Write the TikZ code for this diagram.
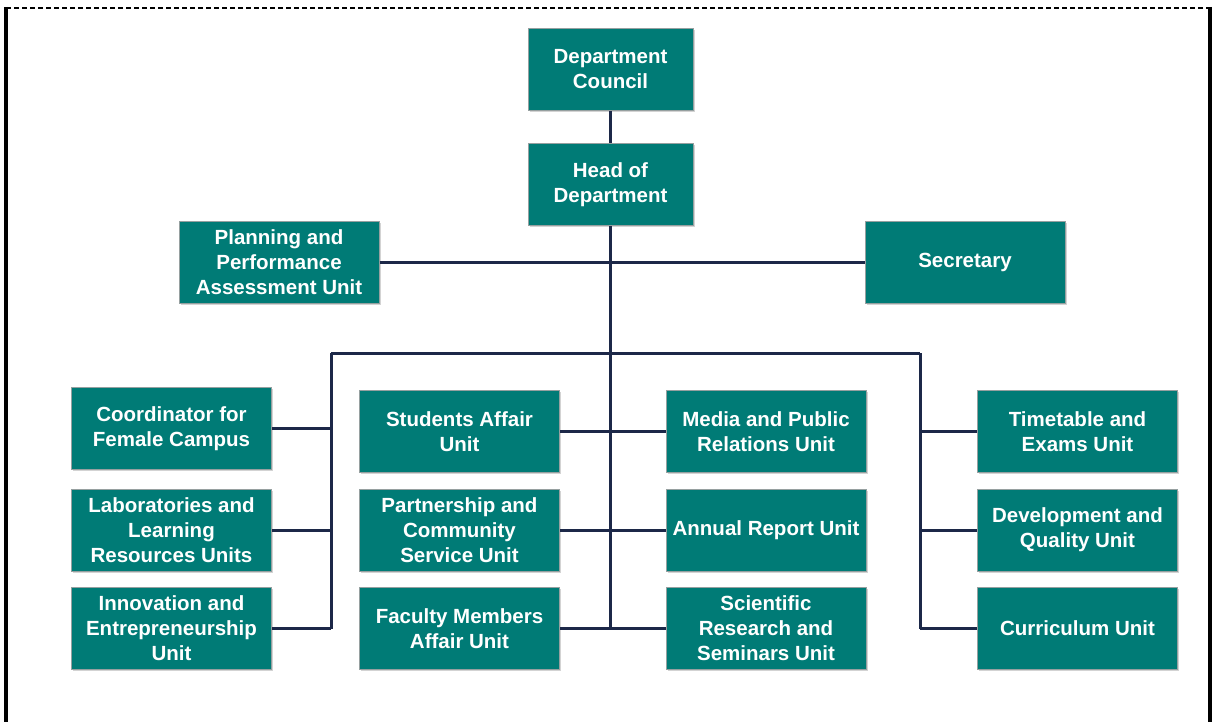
\documentclass[tikz,border=0pt]{standalone}
\usepackage{fontspec}
\setmainfont{Liberation Sans}
\usetikzlibrary{shadows}
\definecolor{boxteal}{RGB}{0,123,118}
\definecolor{boxedge}{RGB}{150,160,160}
\definecolor{linknavy}{RGB}{28,40,72}
\tikzset{
  unitbox/.style={rectangle, fill=boxteal, draw=boxedge, line width=1pt,
    minimum width=200pt, minimum height=82pt, inner sep=2pt,
    text=white, align=center,
    font=\fontsize{20.5}{25}\selectfont\bfseries,
    drop shadow={opacity=0.35, shadow xshift=1.5pt, shadow yshift=-1.5pt}},
  link/.style={draw=linknavy, line width=3pt},
  framethick/.style={draw=black, line width=3.5pt},
  framedash/.style={draw=black, line width=1.8pt, dash pattern=on 5pt off 3pt}
}
\begin{document}
\begin{tikzpicture}[x=1pt,y=-1pt]
\useasboundingbox (0,0) rectangle (1212,722);
% frame
\draw[framedash] (6,8) -- (1210,8);
\draw[framethick] (6,7) -- (6,722);
\draw[framethick] (1210,7) -- (1210,722);

% junction coordinates
\coordinate (busL) at (331,353);
\coordinate (busC) at (610.5,353);
\coordinate (busR) at (920,353);
\coordinate (botL) at (331,629);
\coordinate (botC) at (610.5,629);
\coordinate (botR) at (920,629);

% nodes
\node[unitbox, minimum width=165pt] (dc) at (610.5,69.5) {Department\\Council};
\node[unitbox, minimum width=165pt] (hod) at (610.5,184.5) {Head of\\Department};
\node[unitbox] (plan) at (279,262.5) {Planning and\\Performance\\Assessment Unit};
\node[unitbox] (sec) at (965,262.5) {Secretary};

\node[unitbox] (coord) at (171.5,428.5) {Coordinator for\\Female Campus};
\node[unitbox] (labs) at (171.5,530) {Laboratories and\\Learning\\Resources Units};
\node[unitbox] (innov) at (171.5,628.5) {Innovation and\\Entrepreneurship\\Unit};

\node[unitbox] (stud) at (459.5,431.5) {Students Affair\\Unit};
\node[unitbox] (part) at (459.5,530) {Partnership and\\Community\\Service Unit};
\node[unitbox] (fac) at (459.5,628.5) {Faculty Members\\Affair Unit};

\node[unitbox] (media) at (766,431.5) {Media and Public\\Relations Unit};
\node[unitbox] (annual) at (766,530) {Annual Report Unit};
\node[unitbox] (sci) at (766,628.5) {Scientific\\Research and\\Seminars Unit};

\node[unitbox] (time) at (1077.5,431.5) {Timetable and\\Exams Unit};
\node[unitbox] (dev) at (1077.5,530) {Development and\\Quality Unit};
\node[unitbox] (curr) at (1077.5,628.5) {Curriculum Unit};

% connectors
\draw[link] (dc.south) -- (hod.north);
\draw[link] (hod.south) -- (botC);
\draw[link] (plan.east) -- (sec.west);
\draw[link] (busL) -- (busR);
\draw[link] (busL) -- (botL);
\draw[link] (busR) -- (botR);

\draw[link] (coord.east) -- (coord.east -| busL);
\draw[link] (labs.east) -- (labs.east -| busL);
\draw[link] (innov.east) -- (innov.east -| busL);

\draw[link] (stud.east) -- (media.west);
\draw[link] (part.east) -- (annual.west);
\draw[link] (fac.east) -- (sci.west);

\draw[link] (time.west) -- (time.west -| busR);
\draw[link] (dev.west) -- (dev.west -| busR);
\draw[link] (curr.west) -- (curr.west -| busR);
\end{tikzpicture}
\end{document}
